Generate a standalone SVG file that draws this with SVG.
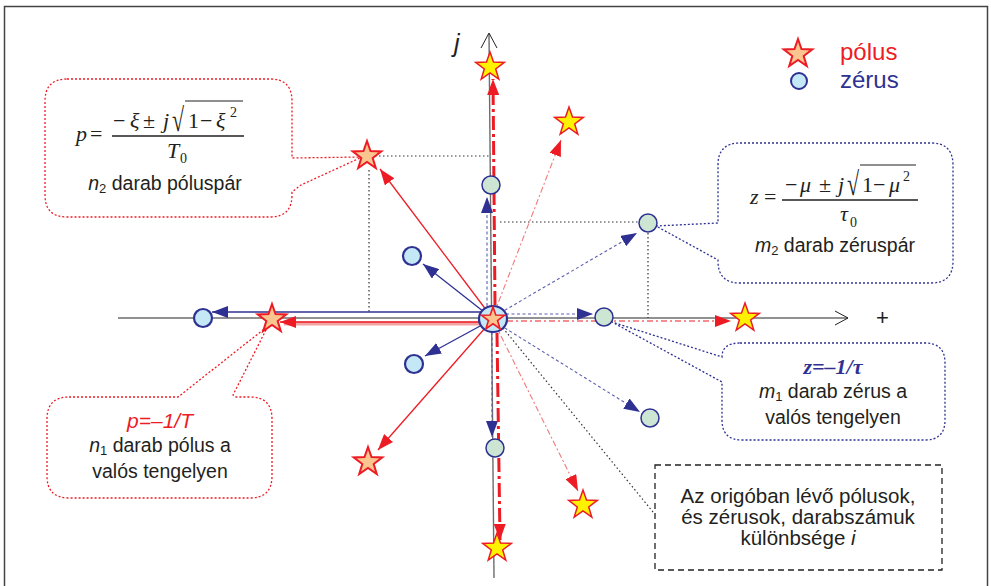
<svg xmlns="http://www.w3.org/2000/svg" width="991" height="586" viewBox="0 0 991 586">
<style>
.ax{stroke:#6d6d6d;stroke-width:1.4;fill:none}
.axh{stroke:#222;stroke-width:1;fill:none}
.red{stroke:#ed1c24;stroke-width:1.3;fill:none}
.blue{stroke:#2e3192;stroke-width:1.3;fill:none}
.bdash{stroke:#5b5fb0;stroke-width:1.1;stroke-dasharray:3 2.5;fill:none}
.rdot{stroke:#f07a7a;stroke-width:1.1;stroke-dasharray:2 2.5 6 2.5;fill:none}
.rdd{stroke:#ed1c24;stroke-width:3;stroke-dasharray:14 4 3 4;fill:none}
.rdh{stroke:#ed1c24;stroke-width:1.1;stroke-dasharray:6 3 2 3;fill:none}
.kdot{stroke:#333;stroke-width:1.2;stroke-dasharray:1.5 2.5;fill:none}
.cred{fill:#fff;stroke:#ed1c24;stroke-width:1.3;stroke-dasharray:2 2}
.cblue{fill:#fff;stroke:#2e3192;stroke-width:1.3;stroke-dasharray:2 2}
.cblk{fill:#fff;stroke:#222;stroke-width:1.3;stroke-dasharray:6 4}
.so{fill:#fbc58f;stroke:#ed1c24;stroke-width:2}
.sy{fill:#fff200;stroke:#ed1c24;stroke-width:1.5}
.zb{fill:#c5e8f7;stroke:#2e3192;stroke-width:2.2}
.zg{fill:#cde6d3;stroke:#2e3192;stroke-width:1.5}
.t{font-family:"Liberation Sans",Arial,sans-serif;fill:#231f20;font-size:19.5px}
.m{font-family:"Liberation Serif","Times New Roman",serif;fill:#231f20;font-size:22px}
.i{font-style:italic}
</style>
<defs>
<path id="st" d="M0,-15 L3.5,-4.9 L14.3,-4.6 L5.7,2 L8.8,12.1 L0,6 L-8.8,12.1 L-5.7,2 L-14.3,-4.6 L-3.5,-4.9 Z"/>
<marker id="ar" viewBox="0 0 16 12" refX="16" refY="6" markerWidth="16" markerHeight="12" markerUnits="userSpaceOnUse" orient="auto"><path d="M0,0 L16,6 L0,12 Z" fill="#ed1c24"/></marker>
<marker id="ab" viewBox="0 0 16 12" refX="16" refY="6" markerWidth="16" markerHeight="12" markerUnits="userSpaceOnUse" orient="auto"><path d="M0,0 L16,6 L0,12 Z" fill="#2e3192"/></marker>
</defs>
<rect x="4.5" y="6.5" width="983" height="600" fill="#fff" stroke="#444" stroke-width="1.5"/>

<g id="axes">
<path class="ax" d="M118,318 L848,318"/>
<path class="axh" d="M835,311 L848,318 L835,325"/>
<path class="ax" d="M489,34 L494,578"/>
<path class="axh" d="M481,48 L489,33 L497,48"/>
<text x="454" y="52" font-family="Liberation Sans,Arial,sans-serif" font-size="25" font-style="italic" fill="#231f20">j</text>
<text x="876" y="325" font-family="Liberation Sans,Arial,sans-serif" font-size="22" fill="#231f20">+</text>
</g>

<g id="callout-poles-pair">
<path class="cred" d="M67,79 H270 Q292,79 292,101 V158 L362,157 L301,185 L292,192 V195 Q292,217 270,217 H67 Q45,217 45,195 V101 Q45,79 67,79 Z"/>
<text class="m i" x="76" y="141">p</text>
<text class="m" x="90" y="141">=</text>
<text class="m" x="113" y="128">−</text>
<text class="m i" x="130" y="128">ξ</text>
<text class="m" x="143" y="128">±</text>
<text class="m i" x="163" y="128">j</text>
<text class="m" transform="translate(172,131) scale(1,1.5)">√</text>
<line x1="185" y1="101" x2="243" y2="101" stroke="#231f20" stroke-width="1.2"/>
<text class="m" x="188" y="128">1</text>
<text class="m" x="200" y="128">−</text>
<text class="m i" x="216" y="128">ξ</text>
<text class="m" x="230" y="117" style="font-size:14px">2</text>
<line x1="112" y1="136" x2="244" y2="136" stroke="#231f20" stroke-width="1.3"/>
<text class="m i" x="167" y="158">T</text>
<text class="m" x="180" y="163" style="font-size:14px">0</text>
<text class="t" x="165" y="190" text-anchor="middle"><tspan class="i">n</tspan><tspan font-size="13" dy="3">2</tspan><tspan dy="-3"> darab póluspár</tspan></text>
</g>

<g id="callout-zeros-pair">
<path class="cblue" d="M740,143 H931 Q953,143 953,165 V261 Q953,283 931,283 H740 Q718,283 718,261 V260 L656,226 L718,223 V165 Q718,143 740,143 Z"/>
<text class="m i" x="750" y="204">z</text>
<text class="m" x="764" y="204">=</text>
<text class="m" x="785" y="192">−</text>
<text class="m i" x="800" y="192">μ</text>
<text class="m" x="819" y="192">±</text>
<text class="m i" x="838" y="192">j</text>
<text class="m" transform="translate(847,195) scale(1,1.5)">√</text>
<line x1="860" y1="165" x2="916" y2="165" stroke="#231f20" stroke-width="1.2"/>
<text class="m" x="862" y="192">1</text>
<text class="m" x="873" y="192">−</text>
<text class="m i" x="889" y="192">μ</text>
<text class="m" x="903" y="181" style="font-size:14px">2</text>
<line x1="782" y1="200" x2="918" y2="200" stroke="#231f20" stroke-width="1.3"/>
<text class="m i" x="840" y="221">τ</text>
<text class="m" x="850" y="227" style="font-size:14px">0</text>
<text class="t" x="835" y="252" text-anchor="middle"><tspan class="i">m</tspan><tspan font-size="13" dy="3">2</tspan><tspan dy="-3"> darab zéruspár</tspan></text>
</g>

<g id="callout-real-poles">
<path class="cred" d="M69,397 H178 L268,326 L233,395 L236,397 H250 Q272,397 272,419 V476 Q272,498 250,498 H69 Q47,498 47,476 V419 Q47,397 69,397 Z"/>
<text class="t i" x="160" y="428" text-anchor="middle" style="fill:#ed1c24;font-size:21px">p=–1/T</text>
<text class="t" x="160" y="452" text-anchor="middle"><tspan class="i">n</tspan><tspan font-size="13" dy="3">1</tspan><tspan dy="-3"> darab pólus a</tspan></text>
<text class="t" x="160" y="478" text-anchor="middle">valós tengelyen</text>
</g>

<g id="callout-real-zeros">
<path class="cblue" d="M740,343 H925 Q945,343 945,363 V420 Q945,440 925,440 H742 Q722,440 722,420 V382 L612,322 L722,357 Q722,343 740,343 Z"/>
<text x="833" y="374" text-anchor="middle" font-family="Liberation Serif,Times New Roman,serif" font-size="22" font-style="italic" font-weight="bold" fill="#2e3192">z=–1/τ</text>
<text class="t" x="833" y="398" text-anchor="middle"><tspan class="i">m</tspan><tspan font-size="13" dy="3">1</tspan><tspan dy="-3"> darab zérus a</tspan></text>
<text class="t" x="833" y="424" text-anchor="middle">valós tengelyen</text>
</g>

<g id="box-origin">
<rect class="cblk" x="655" y="465" width="287" height="105"/>
<text class="t" x="798" y="503" text-anchor="middle" style="font-size:20.5px">Az origóban lévő pólusok,</text>
<text class="t" x="798" y="524" text-anchor="middle" style="font-size:20.5px">és zérusok, darabszámuk</text>
<text class="t" x="798" y="545" text-anchor="middle" style="font-size:20.5px">különbsége <tspan class="i">i</tspan></text>
</g>

<g id="connectors">
<path class="kdot" d="M375,156 L490,156 M369,170 L369,312 M500,222 L638,222 M648,233 L648,318 M503,328 L653,512"/>
<path d="M493,323.5 L284,323.5" stroke="#f4a3a3" stroke-width="4" fill="none"/>
<path class="red" d="M493,322 L280,322" marker-end="url(#ar)"/>
<path class="red" d="M493,319 L380,169" marker-end="url(#ar)"/>
<path class="red" d="M493,319 L378,450" marker-end="url(#ar)"/>
<path class="blue" d="M493,312 L212,312" marker-end="url(#ab)"/>
<path class="blue" d="M493,319 L423,264" marker-end="url(#ab)"/>
<path class="blue" d="M493,319 L425,356" marker-end="url(#ab)"/>
<path class="bdash" d="M487,306 L487,197" marker-end="url(#ab)"/>
<path class="bdash" d="M492,332 L492,437" marker-end="url(#ab)"/>
<path class="bdash" d="M506,314 L593,314" marker-end="url(#ab)"/>
<path class="bdash" d="M500,313 L637,233" marker-end="url(#ab)"/>
<path class="bdash" d="M500,325 L640,412" marker-end="url(#ab)"/>
<path class="rdd" d="M495,305 L493,79" marker-end="url(#ar)"/>
<path class="rdd" d="M497,333 L500,540" marker-end="url(#ar)"/>
<path class="rdh" d="M507,321 L731,321" marker-end="url(#ar)"/>
<path class="rdot" d="M497,306 L561,140" marker-end="url(#ar)"/>
<path class="rdot" d="M499,332 L578,491" marker-end="url(#ar)"/>
</g>

<g id="origin"><ellipse cx="493" cy="319" rx="14" ry="13" class="zb" stroke-width="1.5"/><use href="#st" class="so" transform="translate(493,319) scale(0.8)"/></g>
<g id="pole-upper-left"><use href="#st" class="so" x="367" y="156"/></g>
<g id="pole-real"><use href="#st" class="so" x="272" y="319"/></g>
<g id="pole-lower-left"><use href="#st" class="so" x="368" y="462"/></g>
<g id="pole-top"><use href="#st" class="sy" x="490" y="67"/></g>
<g id="pole-upper-right"><use href="#st" class="sy" x="569" y="122"/></g>
<g id="pole-right"><use href="#st" class="sy" x="745" y="318"/></g>
<g id="pole-lower-right"><use href="#st" class="sy" x="583" y="505"/></g>
<g id="pole-bottom"><use href="#st" class="sy" x="497" y="548"/></g>
<g id="zero-left"><circle class="zb" cx="203" cy="318" r="9"/></g>
<g id="zero-upper-left"><circle class="zb" cx="412" cy="256" r="9"/></g>
<g id="zero-lower-left"><circle class="zb" cx="414" cy="364" r="9"/></g>
<g id="zero-top"><circle class="zg" cx="491" cy="185" r="9"/></g>
<g id="zero-bottom"><circle class="zg" cx="495" cy="448" r="9"/></g>
<g id="zero-upper-right"><circle class="zg" cx="648" cy="223" r="9"/></g>
<g id="zero-right"><circle class="zg" cx="604" cy="317" r="9"/></g>
<g id="zero-lower-right"><circle class="zg" cx="650" cy="418" r="9"/></g>

<g id="legend">
<use href="#st" class="so" x="798" y="54"/>
<text x="840" y="60" font-family="Liberation Sans,Arial,sans-serif" font-size="24" fill="#ed1c24">pólus</text>
<circle cx="799" cy="81" r="8" fill="#c5e8f7" stroke="#2e3192" stroke-width="2"/>
<text x="840" y="88" font-family="Liberation Sans,Arial,sans-serif" font-size="24" fill="#2e3192">zérus</text>
</g>
</svg>
